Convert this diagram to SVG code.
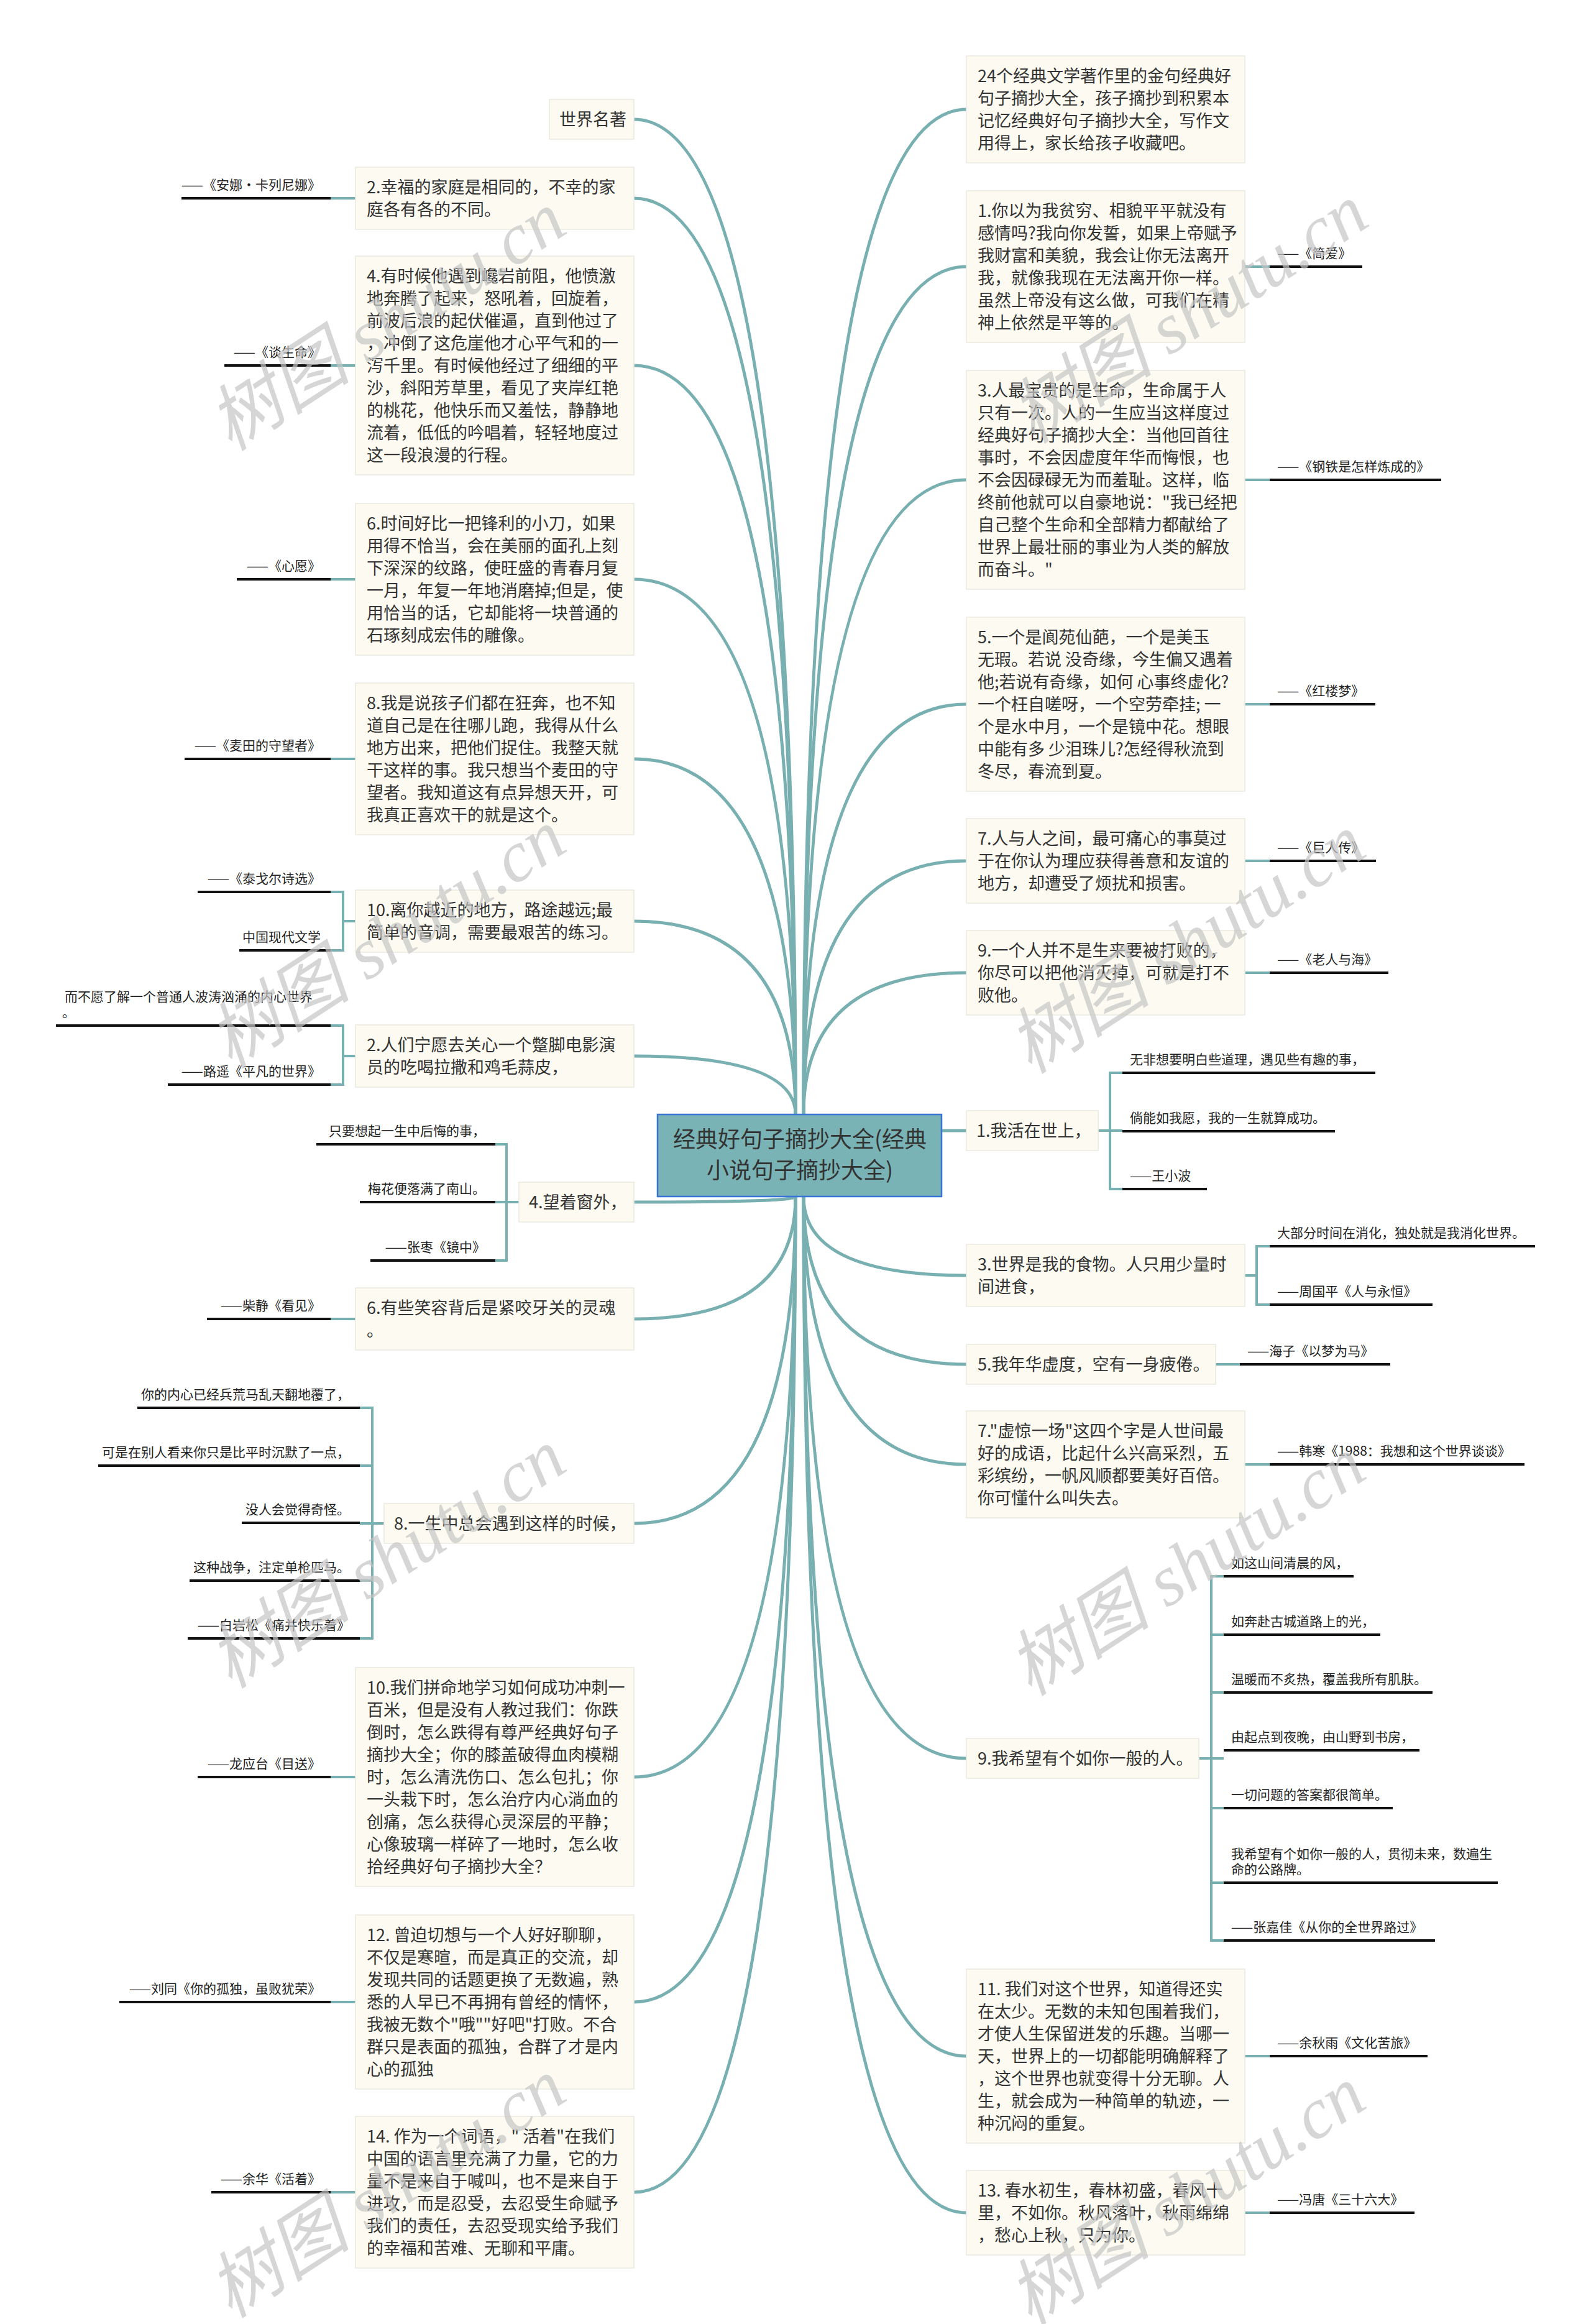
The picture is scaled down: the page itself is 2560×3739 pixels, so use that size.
<svg xmlns="http://www.w3.org/2000/svg" width="2560" height="3739" viewBox="0 0 2560 3739">
<style>
.bg{fill:#ffffff}
.box{fill:#fcfaf1;stroke:#ebeadf;stroke-width:1.5}
.t{font-family:"Noto Sans CJK SC","Liberation Sans",sans-serif;font-size:27px;fill:#333333}
.lb{font-family:"Noto Sans CJK SC","Liberation Sans",sans-serif;font-size:21px;fill:#222222}
.le{text-anchor:end}
.ln{fill:none;stroke:#78b0b2;stroke-width:5}
.st{fill:none;stroke:#78b0b2;stroke-width:4}
.ul{stroke:#111111;stroke-width:4}
.root{fill:#79b3b5;stroke:#3a73d6;stroke-width:2.5}
.rt{font-family:"Noto Sans CJK SC","Liberation Sans",sans-serif;font-size:36px;fill:#333333;text-anchor:middle}
.wm{font-family:"Liberation Serif","Noto Sans CJK SC",serif;font-style:italic;font-size:116px;fill:#c4c4c4;fill-opacity:0.7;text-anchor:middle}
</style>
<rect class="bg" x="0" y="0" width="2560" height="3739"/>

<g id="connectors">
<path class="ln" d="M1280,1793 Q1280,192 1020,192"/>
<path class="ln" d="M1280,1793 Q1280,319 1020,319"/>
<path class="ln" d="M1280,1793 Q1280,588 1020,588"/>
<path class="ln" d="M1280,1793 Q1280,932 1020,932"/>
<path class="ln" d="M1280,1793 Q1280,1221 1020,1221"/>
<path class="ln" d="M1280,1793 Q1280,1482 1020,1482"/>
<path class="ln" d="M1280,1793 Q1280,1699 1020,1699"/>
<path class="ln" d="M1280,1925 Q1280,1934 1020,1934"/>
<path class="ln" d="M1280,1925 Q1280,2122 1020,2122"/>
<path class="ln" d="M1280,1925 Q1280,2451 1020,2451"/>
<path class="ln" d="M1280,1925 Q1280,2859 1020,2859"/>
<path class="ln" d="M1280,1925 Q1280,3221 1020,3221"/>
<path class="ln" d="M1280,1925 Q1280,3527 1020,3527"/>
<path class="ln" d="M1293,1793 Q1293,176 1555,176"/>
<path class="ln" d="M1293,1793 Q1293,429 1555,429"/>
<path class="ln" d="M1293,1793 Q1293,772 1555,772"/>
<path class="ln" d="M1293,1793 Q1293,1133 1555,1133"/>
<path class="ln" d="M1293,1793 Q1293,1385 1555,1385"/>
<path class="ln" d="M1293,1793 Q1293,1565 1555,1565"/>
<path class="ln" d="M1515,1819 L1555,1819"/>
<path class="ln" d="M1293,1925 Q1293,2052 1555,2052"/>
<path class="ln" d="M1293,1925 Q1293,2195 1555,2195"/>
<path class="ln" d="M1293,1925 Q1293,2356 1555,2356"/>
<path class="ln" d="M1293,1925 Q1293,2829 1555,2829"/>
<path class="ln" d="M1293,1925 Q1293,3308 1555,3308"/>
<path class="ln" d="M1293,1925 Q1293,3560 1555,3560"/>
<path class="st" d="M532,319 H572"/>
<path class="st" d="M532,588 H572"/>
<path class="st" d="M532,932 H572"/>
<path class="st" d="M532,1221 H572"/>
<path class="st" d="M572,1482 H552 M532,1435 H552 V1529 H532"/>
<path class="st" d="M572,1699 H552 M532,1650 H552 V1745 H532"/>
<path class="st" d="M835,1934 H797 M797,1841 H815 V2028 H797"/>
<path class="st" d="M532,2122 H572"/>
<path class="st" d="M618,2451 H579 M579,2265 H599 V2636 H579 M579,2358 H599 M579,2543 H599"/>
<path class="st" d="M532,2859 H572"/>
<path class="st" d="M532,3221 H572"/>
<path class="st" d="M532,3527 H572"/>
<path class="st" d="M2003,429 H2043"/>
<path class="st" d="M2003,772 H2043"/>
<path class="st" d="M2003,1133 H2043"/>
<path class="st" d="M2003,1385 H2043"/>
<path class="st" d="M2003,1565 H2043"/>
<path class="st" d="M1767,1819 H1806 M1806,1726 H1786 V1913 H1806"/>
<path class="st" d="M2003,2052 H2022 M2043,2005 H2022 V2099 H2043"/>
<path class="st" d="M1956,2195 H1995"/>
<path class="st" d="M2003,2356 H2043"/>
<path class="st" d="M1929,2829 H1969 M1969,2536 H1949 V3122 H1969 M1949,2630 H1969 M1949,2723 H1969 M1949,2909 H1969 M1949,3029 H1969"/>
<path class="st" d="M2003,3308 H2043"/>
<path class="st" d="M2003,3560 H2043"/>
</g>

<g id="root">
<rect class="root" x="1058" y="1793" width="457" height="132"/>
<text class="rt" x="1287" y="1846">经典好句子摘抄大全(经典</text>
<text class="rt" x="1287" y="1896">小说句子摘抄大全)</text>
</g>

<g id="n-L1">
<rect class="box" x="884" y="160" width="136" height="64"/>
<text class="t" x="900" y="202">世界名著</text>
</g>

<g id="n-L2">
<rect class="box" x="572" y="269" width="448" height="100"/>
<text class="t" x="590" y="311">2.幸福的家庭是相同的，不幸的家</text>
<text class="t" x="590" y="347">庭各有各的不同。</text>
<line class="ul" x1="292" y1="319" x2="532" y2="319"/>
<text class="lb le" x="516" y="305">——《安娜·卡列尼娜》</text>
</g>

<g id="n-L3">
<rect class="box" x="572" y="412" width="448" height="352"/>
<text class="t" x="590" y="454">4.有时候他遇到巉岩前阻，他愤激</text>
<text class="t" x="590" y="490">地奔腾了起来，怒吼着，回旋着，</text>
<text class="t" x="590" y="526">前波后浪的起伏催逼，直到他过了</text>
<text class="t" x="590" y="562">，冲倒了这危崖他才心平气和的一</text>
<text class="t" x="590" y="598">泻千里。有时候他经过了细细的平</text>
<text class="t" x="590" y="634">沙，斜阳芳草里，看见了夹岸红艳</text>
<text class="t" x="590" y="670">的桃花，他快乐而又羞怯，静静地</text>
<text class="t" x="590" y="706">流着，低低的吟唱着，轻轻地度过</text>
<text class="t" x="590" y="742">这一段浪漫的行程。</text>
<line class="ul" x1="361" y1="588" x2="532" y2="588"/>
<text class="lb le" x="516" y="574">——《谈生命》</text>
</g>

<g id="n-L4">
<rect class="box" x="572" y="810" width="448" height="244"/>
<text class="t" x="590" y="852">6.时间好比一把锋利的小刀，如果</text>
<text class="t" x="590" y="888">用得不恰当，会在美丽的面孔上刻</text>
<text class="t" x="590" y="924">下深深的纹路，使旺盛的青春月复</text>
<text class="t" x="590" y="960">一月，年复一年地消磨掉;但是，使</text>
<text class="t" x="590" y="996">用恰当的话，它却能将一块普通的</text>
<text class="t" x="590" y="1032">石琢刻成宏伟的雕像。</text>
<line class="ul" x1="381" y1="932" x2="532" y2="932"/>
<text class="lb le" x="516" y="918">——《心愿》</text>
</g>

<g id="n-L5">
<rect class="box" x="572" y="1099" width="448" height="244"/>
<text class="t" x="590" y="1141">8.我是说孩子们都在狂奔，也不知</text>
<text class="t" x="590" y="1177">道自己是在往哪儿跑，我得从什么</text>
<text class="t" x="590" y="1213">地方出来，把他们捉住。我整天就</text>
<text class="t" x="590" y="1249">干这样的事。我只想当个麦田的守</text>
<text class="t" x="590" y="1285">望者。我知道这有点异想天开，可</text>
<text class="t" x="590" y="1321">我真正喜欢干的就是这个。</text>
<line class="ul" x1="297" y1="1221" x2="532" y2="1221"/>
<text class="lb le" x="516" y="1207">——《麦田的守望者》</text>
</g>

<g id="n-L6">
<rect class="box" x="572" y="1432" width="448" height="100"/>
<text class="t" x="590" y="1474">10.离你越近的地方，路途越远;最</text>
<text class="t" x="590" y="1510">简单的音调，需要最艰苦的练习。</text>
<line class="ul" x1="318" y1="1435" x2="532" y2="1435"/>
<text class="lb le" x="516" y="1421">——《泰戈尔诗选》</text>
<line class="ul" x1="385" y1="1529" x2="532" y2="1529"/>
<text class="lb le" x="516" y="1515">中国现代文学</text>
</g>

<g id="n-L7">
<rect class="box" x="572" y="1649" width="448" height="100"/>
<text class="t" x="590" y="1691">2.人们宁愿去关心一个蹩脚电影演</text>
<text class="t" x="590" y="1727">员的吃喝拉撒和鸡毛蒜皮，</text>
<line class="ul" x1="90" y1="1650" x2="532" y2="1650"/>
<text class="lb" x="104" y="1611">而不愿了解一个普通人波涛汹涌的内心世界</text>
<text class="lb" x="100" y="1636">。</text>
<line class="ul" x1="270" y1="1745" x2="532" y2="1745"/>
<text class="lb le" x="516" y="1731">——路遥《平凡的世界》</text>
</g>

<g id="n-L8">
<rect class="box" x="835" y="1902" width="185" height="64"/>
<text class="t" x="851" y="1944">4.望着窗外，</text>
<line class="ul" x1="509" y1="1841" x2="797" y2="1841"/>
<text class="lb le" x="781" y="1827">只要想起一生中后悔的事，</text>
<line class="ul" x1="579" y1="1934" x2="797" y2="1934"/>
<text class="lb le" x="781" y="1920">梅花便落满了南山。</text>
<line class="ul" x1="596" y1="2028" x2="797" y2="2028"/>
<text class="lb le" x="781" y="2014">——张枣《镜中》</text>
</g>

<g id="n-L9">
<rect class="box" x="572" y="2072" width="448" height="100"/>
<text class="t" x="590" y="2114">6.有些笑容背后是紧咬牙关的灵魂</text>
<text class="t" x="590" y="2150">。</text>
<line class="ul" x1="333" y1="2122" x2="532" y2="2122"/>
<text class="lb le" x="516" y="2108">——柴静《看见》</text>
</g>

<g id="n-L10">
<rect class="box" x="618" y="2419" width="402" height="64"/>
<text class="t" x="634" y="2461">8.一生中总会遇到这样的时候，</text>
<line class="ul" x1="221" y1="2265" x2="579" y2="2265"/>
<text class="lb le" x="563" y="2251">你的内心已经兵荒马乱天翻地覆了，</text>
<line class="ul" x1="158" y1="2358" x2="579" y2="2358"/>
<text class="lb le" x="563" y="2344">可是在别人看来你只是比平时沉默了一点，</text>
<line class="ul" x1="389" y1="2450" x2="579" y2="2450"/>
<text class="lb le" x="563" y="2436">没人会觉得奇怪。</text>
<line class="ul" x1="305" y1="2543" x2="579" y2="2543"/>
<text class="lb le" x="563" y="2529">这种战争，注定单枪匹马。</text>
<line class="ul" x1="302" y1="2636" x2="579" y2="2636"/>
<text class="lb le" x="563" y="2622">——白岩松《痛并快乐着》</text>
</g>

<g id="n-L11">
<rect class="box" x="572" y="2683" width="448" height="352"/>
<text class="t" x="590" y="2725">10.我们拼命地学习如何成功冲刺一</text>
<text class="t" x="590" y="2761">百米，但是没有人教过我们：你跌</text>
<text class="t" x="590" y="2797">倒时，怎么跌得有尊严经典好句子</text>
<text class="t" x="590" y="2833">摘抄大全；你的膝盖破得血肉模糊</text>
<text class="t" x="590" y="2869">时，怎么清洗伤口、怎么包扎；你</text>
<text class="t" x="590" y="2905">一头栽下时，怎么治疗内心淌血的</text>
<text class="t" x="590" y="2941">创痛，怎么获得心灵深层的平静；</text>
<text class="t" x="590" y="2977">心像玻璃一样碎了一地时，怎么收</text>
<text class="t" x="590" y="3013">拾经典好句子摘抄大全？</text>
<line class="ul" x1="318" y1="2859" x2="532" y2="2859"/>
<text class="lb le" x="516" y="2845">——龙应台《目送》</text>
</g>

<g id="n-L12">
<rect class="box" x="572" y="3081" width="448" height="280"/>
<text class="t" x="590" y="3123">12. 曾迫切想与一个人好好聊聊，</text>
<text class="t" x="590" y="3159">不仅是寒暄，而是真正的交流，却</text>
<text class="t" x="590" y="3195">发现共同的话题更换了无数遍，熟</text>
<text class="t" x="590" y="3231">悉的人早已不再拥有曾经的情怀，</text>
<text class="t" x="590" y="3267">我被无数个"哦""好吧"打败。不合</text>
<text class="t" x="590" y="3303">群只是表面的孤独，合群了才是内</text>
<text class="t" x="590" y="3339">心的孤独</text>
<line class="ul" x1="192" y1="3221" x2="532" y2="3221"/>
<text class="lb le" x="516" y="3207">——刘同《你的孤独，虽败犹荣》</text>
</g>

<g id="n-L13">
<rect class="box" x="572" y="3405" width="448" height="244"/>
<text class="t" x="590" y="3447">14. 作为一个词语，" 活着"在我们</text>
<text class="t" x="590" y="3483">中国的语言里充满了力量，它的力</text>
<text class="t" x="590" y="3519">量不是来自于喊叫，也不是来自于</text>
<text class="t" x="590" y="3555">进攻，而是忍受，去忍受生命赋予</text>
<text class="t" x="590" y="3591">我们的责任，去忍受现实给予我们</text>
<text class="t" x="590" y="3627">的幸福和苦难、无聊和平庸。</text>
<line class="ul" x1="340" y1="3527" x2="532" y2="3527"/>
<text class="lb le" x="516" y="3513">——余华《活着》</text>
</g>

<g id="n-R1">
<rect class="box" x="1555" y="90" width="448" height="172"/>
<text class="t" x="1573" y="132">24个经典文学著作里的金句经典好</text>
<text class="t" x="1573" y="168">句子摘抄大全，孩子摘抄到积累本</text>
<text class="t" x="1573" y="204">记忆经典好句子摘抄大全，写作文</text>
<text class="t" x="1573" y="240">用得上，家长给孩子收藏吧。</text>
</g>

<g id="n-R2">
<rect class="box" x="1555" y="307" width="448" height="244"/>
<text class="t" x="1573" y="349">1.你以为我贫穷、相貌平平就没有</text>
<text class="t" x="1573" y="385">感情吗?我向你发誓，如果上帝赋予</text>
<text class="t" x="1573" y="421">我财富和美貌，我会让你无法离开</text>
<text class="t" x="1573" y="457">我，就像我现在无法离开你一样。</text>
<text class="t" x="1573" y="493">虽然上帝没有这么做，可我们在精</text>
<text class="t" x="1573" y="529">神上依然是平等的。</text>
<line class="ul" x1="2043" y1="429" x2="2192" y2="429"/>
<text class="lb" x="2055" y="415">——《简爱》</text>
</g>

<g id="n-R3">
<rect class="box" x="1555" y="596" width="448" height="352"/>
<text class="t" x="1573" y="638">3.人最宝贵的是生命，生命属于人</text>
<text class="t" x="1573" y="674">只有一次。人的一生应当这样度过</text>
<text class="t" x="1573" y="710">经典好句子摘抄大全：当他回首往</text>
<text class="t" x="1573" y="746">事时，不会因虚度年华而悔恨，也</text>
<text class="t" x="1573" y="782">不会因碌碌无为而羞耻。这样，临</text>
<text class="t" x="1573" y="818">终前他就可以自豪地说："我已经把</text>
<text class="t" x="1573" y="854">自己整个生命和全部精力都献给了</text>
<text class="t" x="1573" y="890">世界上最壮丽的事业为人类的解放</text>
<text class="t" x="1573" y="926">而奋斗。"</text>
<line class="ul" x1="2043" y1="772" x2="2319" y2="772"/>
<text class="lb" x="2055" y="758">——《钢铁是怎样炼成的》</text>
</g>

<g id="n-R4">
<rect class="box" x="1555" y="993" width="448" height="280"/>
<text class="t" x="1573" y="1035">5.一个是阆苑仙葩，一个是美玉</text>
<text class="t" x="1573" y="1071">无瑕。若说 没奇缘，今生偏又遇着</text>
<text class="t" x="1573" y="1107">他;若说有奇缘，如何 心事终虚化?</text>
<text class="t" x="1573" y="1143">一个枉自嗟呀，一个空劳牵挂; 一</text>
<text class="t" x="1573" y="1179">个是水中月，一个是镜中花。想眼</text>
<text class="t" x="1573" y="1215">中能有多 少泪珠儿?怎经得秋流到</text>
<text class="t" x="1573" y="1251">冬尽，春流到夏。</text>
<line class="ul" x1="2043" y1="1133" x2="2213" y2="1133"/>
<text class="lb" x="2055" y="1119">——《红楼梦》</text>
</g>

<g id="n-R5">
<rect class="box" x="1555" y="1317" width="448" height="136"/>
<text class="t" x="1573" y="1359">7.人与人之间，最可痛心的事莫过</text>
<text class="t" x="1573" y="1395">于在你认为理应获得善意和友谊的</text>
<text class="t" x="1573" y="1431">地方，却遭受了烦扰和损害。</text>
<line class="ul" x1="2043" y1="1385" x2="2214" y2="1385"/>
<text class="lb" x="2055" y="1371">——《巨人传》</text>
</g>

<g id="n-R6">
<rect class="box" x="1555" y="1497" width="448" height="136"/>
<text class="t" x="1573" y="1539">9.一个人并不是生来要被打败的，</text>
<text class="t" x="1573" y="1575">你尽可以把他消灭掉，可就是打不</text>
<text class="t" x="1573" y="1611">败他。</text>
<line class="ul" x1="2043" y1="1565" x2="2234" y2="1565"/>
<text class="lb" x="2055" y="1551">——《老人与海》</text>
</g>

<g id="n-R7">
<rect class="box" x="1555" y="1787" width="212" height="64"/>
<text class="t" x="1571" y="1829">1.我活在世上，</text>
<line class="ul" x1="1806" y1="1726" x2="2213" y2="1726"/>
<text class="lb" x="1818" y="1712">无非想要明白些道理，遇见些有趣的事，</text>
<line class="ul" x1="1806" y1="1820" x2="2148" y2="1820"/>
<text class="lb" x="1818" y="1806">倘能如我愿，我的一生就算成功。</text>
<line class="ul" x1="1806" y1="1913" x2="1942" y2="1913"/>
<text class="lb" x="1818" y="1899">——王小波</text>
</g>

<g id="n-R8">
<rect class="box" x="1555" y="2002" width="448" height="100"/>
<text class="t" x="1573" y="2044">3.世界是我的食物。人只用少量时</text>
<text class="t" x="1573" y="2080">间进食，</text>
<line class="ul" x1="2043" y1="2005" x2="2470" y2="2005"/>
<text class="lb" x="2055" y="1991">大部分时间在消化，独处就是我消化世界。</text>
<line class="ul" x1="2043" y1="2099" x2="2305" y2="2099"/>
<text class="lb" x="2055" y="2085">——周国平《人与永恒》</text>
</g>

<g id="n-R9">
<rect class="box" x="1555" y="2163" width="401" height="64"/>
<text class="t" x="1573" y="2205">5.我年华虚度，空有一身疲倦。</text>
<line class="ul" x1="1995" y1="2195" x2="2237" y2="2195"/>
<text class="lb" x="2007" y="2181">——海子《以梦为马》</text>
</g>

<g id="n-R10">
<rect class="box" x="1555" y="2270" width="448" height="172"/>
<text class="t" x="1573" y="2312">7."虚惊一场"这四个字是人世间最</text>
<text class="t" x="1573" y="2348">好的成语，比起什么兴高采烈，五</text>
<text class="t" x="1573" y="2384">彩缤纷，一帆风顺都要美好百倍。</text>
<text class="t" x="1573" y="2420">你可懂什么叫失去。</text>
<line class="ul" x1="2043" y1="2356" x2="2453" y2="2356"/>
<text class="lb" x="2055" y="2342">——韩寒《1988：我想和这个世界谈谈》</text>
</g>

<g id="n-R11">
<rect class="box" x="1555" y="2797" width="374" height="64"/>
<text class="t" x="1573" y="2839">9.我希望有个如你一般的人。</text>
<line class="ul" x1="1969" y1="2536" x2="2178" y2="2536"/>
<text class="lb" x="1981" y="2522">如这山间清晨的风，</text>
<line class="ul" x1="1969" y1="2630" x2="2221" y2="2630"/>
<text class="lb" x="1981" y="2616">如奔赴古城道路上的光，</text>
<line class="ul" x1="1969" y1="2723" x2="2305" y2="2723"/>
<text class="lb" x="1981" y="2709">温暖而不炙热，覆盖我所有肌肤。</text>
<line class="ul" x1="1969" y1="2816" x2="2284" y2="2816"/>
<text class="lb" x="1981" y="2802">由起点到夜晚，由山野到书房，</text>
<line class="ul" x1="1969" y1="2909" x2="2241" y2="2909"/>
<text class="lb" x="1981" y="2895">一切问题的答案都很简单。</text>
<line class="ul" x1="1969" y1="3029" x2="2410" y2="3029"/>
<text class="lb" x="1981" y="2990">我希望有个如你一般的人，贯彻未来，数遍生</text>
<text class="lb" x="1981" y="3015">命的公路牌。</text>
<line class="ul" x1="1969" y1="3122" x2="2309" y2="3122"/>
<text class="lb" x="1981" y="3108">——张嘉佳《从你的全世界路过》</text>
</g>

<g id="n-R12">
<rect class="box" x="1555" y="3168" width="448" height="280"/>
<text class="t" x="1573" y="3210">11. 我们对这个世界，知道得还实</text>
<text class="t" x="1573" y="3246">在太少。无数的未知包围着我们，</text>
<text class="t" x="1573" y="3282">才使人生保留迸发的乐趣。当哪一</text>
<text class="t" x="1573" y="3318">天，世界上的一切都能明确解释了</text>
<text class="t" x="1573" y="3354">，这个世界也就变得十分无聊。人</text>
<text class="t" x="1573" y="3390">生，就会成为一种简单的轨迹，一</text>
<text class="t" x="1573" y="3426">种沉闷的重复。</text>
<line class="ul" x1="2043" y1="3308" x2="2297" y2="3308"/>
<text class="lb" x="2055" y="3294">——余秋雨《文化苦旅》</text>
</g>

<g id="n-R13">
<rect class="box" x="1555" y="3492" width="448" height="136"/>
<text class="t" x="1573" y="3534">13. 春水初生，春林初盛，春风十</text>
<text class="t" x="1573" y="3570">里，不如你。秋风落叶，秋雨绵绵</text>
<text class="t" x="1573" y="3606">，愁心上秋，只为你。</text>
<line class="ul" x1="2043" y1="3560" x2="2276" y2="3560"/>
<text class="lb" x="2055" y="3546">——冯唐《三十六大》</text>
</g>

<g id="watermark">
<text class="wm" transform="translate(644,550) rotate(-33)">树图 shutu.cn</text>
<text class="wm" transform="translate(1935,538) rotate(-33)">树图 shutu.cn</text>
<text class="wm" transform="translate(644,1544) rotate(-33)">树图 shutu.cn</text>
<text class="wm" transform="translate(1931,1552) rotate(-33)">树图 shutu.cn</text>
<text class="wm" transform="translate(644,2541) rotate(-33)">树图 shutu.cn</text>
<text class="wm" transform="translate(1931,2553) rotate(-33)">树图 shutu.cn</text>
<text class="wm" transform="translate(644,3554) rotate(-33)">树图 shutu.cn</text>
<text class="wm" transform="translate(1931,3566) rotate(-33)">树图 shutu.cn</text>
</g>
</svg>
